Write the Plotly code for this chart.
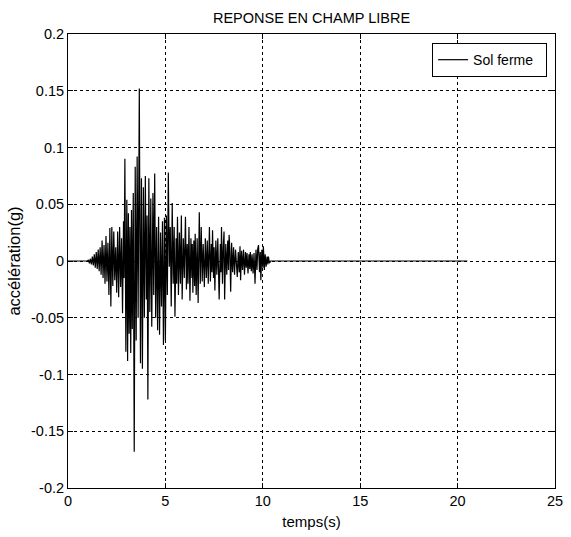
import plotly.graph_objects as go

# Peaks of the free-field acceleration record (s, g)
temps = [
    0.00, 1.00, 1.05, 1.10, 1.15, 1.20, 1.25, 1.30, 1.35, 1.40, 1.45, 1.50, 1.55, 1.60,
    1.65, 1.70, 1.75, 1.80, 1.85, 1.90, 1.95, 2.00, 2.05, 2.10, 2.15, 2.20, 2.25, 2.30,
    2.35, 2.40, 2.45, 2.50, 2.55, 2.60, 2.65, 2.70, 2.75, 2.80, 2.85, 2.88, 2.92, 2.97,
    3.02, 3.06, 3.10, 3.14, 3.18, 3.22, 3.26, 3.30, 3.35, 3.40, 3.45, 3.50, 3.55, 3.60,
    3.66, 3.72, 3.77, 3.82, 3.87, 3.92, 3.97, 4.02, 4.06, 4.10, 4.15, 4.20, 4.25, 4.30,
    4.36, 4.40, 4.45, 4.50, 4.55, 4.60, 4.65, 4.70, 4.75, 4.80, 4.85, 4.90, 4.95, 5.00,
    5.05, 5.10, 5.15, 5.20, 5.25, 5.30, 5.35, 5.40, 5.45, 5.49, 5.55, 5.58, 5.62, 5.67,
    5.72, 5.77, 5.82, 5.86, 5.92, 5.97, 6.03, 6.08, 6.12, 6.16, 6.21, 6.26, 6.31, 6.36,
    6.38, 6.41, 6.46, 6.50, 6.53, 6.58, 6.63, 6.68, 6.74, 6.79, 6.84, 6.89, 6.94, 7.00,
    7.05, 7.10, 7.15, 7.20, 7.26, 7.31, 7.36, 7.39, 7.42, 7.47, 7.50, 7.54, 7.59, 7.64,
    7.69, 7.76, 7.82, 7.85, 7.88, 7.93, 7.97, 8.01, 8.04, 8.10, 8.15, 8.20, 8.24, 8.27,
    8.31, 8.35, 8.40, 8.45, 8.50, 8.55, 8.60, 8.65, 8.69, 8.74, 8.79, 8.83, 8.86, 8.91,
    8.96, 9.01, 9.06, 9.11, 9.15, 9.19, 9.24, 9.29, 9.33, 9.36, 9.41, 9.45, 9.50, 9.55,
    9.60, 9.65, 9.70, 9.74, 9.78, 9.83, 9.87, 9.90, 9.95, 10.00, 10.03, 10.08, 10.12,
    10.17, 10.22, 10.26, 10.29, 10.34, 10.40, 20.50,
]
acceleration = [
    0.000, 0.000, 0.001, -0.002, 0.002, -0.003, 0.004, -0.004, 0.006, -0.006, 0.008, -0.007, 0.010, -0.009,
    0.012, -0.012, 0.018, -0.015, 0.014, -0.020, 0.022, -0.018, 0.016, -0.030, 0.029, -0.040, 0.030, -0.022,
    0.026, -0.017, 0.012, -0.028, 0.026, -0.032, 0.030, -0.023, 0.020, -0.046, 0.035, -0.015, 0.090, -0.080,
    0.054, -0.088, 0.042, -0.064, 0.030, -0.081, 0.045, -0.060, 0.060, -0.168, 0.083, -0.070, 0.092, -0.050,
    0.152, -0.090, 0.073, -0.095, 0.065, -0.050, 0.075, -0.034, 0.040, -0.122, 0.073, -0.045, 0.055, -0.058,
    0.060, -0.030, 0.077, -0.050, 0.030, -0.061, 0.039, -0.065, 0.025, -0.040, 0.035, -0.074, 0.038, -0.070,
    0.040, -0.030, 0.078, -0.005, 0.030, -0.040, 0.051, -0.020, 0.030, -0.049, 0.020, -0.020, 0.039, -0.030,
    0.025, -0.020, 0.040, -0.034, 0.020, -0.015, 0.039, -0.025, 0.015, -0.020, 0.030, -0.035, 0.020, -0.015,
    0.015, -0.028, 0.018, -0.022, 0.024, -0.030, 0.020, -0.037, 0.043, -0.020, 0.030, -0.018, 0.015, -0.023,
    0.020, -0.015, 0.018, -0.020, 0.030, -0.018, 0.015, -0.010, 0.027, -0.015, 0.012, -0.026, 0.018, -0.012,
    0.020, -0.034, 0.015, -0.010, 0.030, -0.020, 0.012, 0.026, -0.034, 0.015, -0.012, 0.018, -0.008, 0.023,
    0.010, -0.027, 0.016, -0.010, 0.012, -0.012, 0.010, -0.008, -0.014, 0.008, -0.010, 0.013, -0.017, 0.009,
    -0.008, 0.010, -0.012, 0.008, -0.006, 0.007, -0.011, 0.006, -0.007, 0.008, -0.009, 0.006, -0.011, 0.007,
    -0.020, 0.010, -0.008, 0.011, 0.014, -0.010, 0.008, -0.017, 0.010, -0.006, 0.013, -0.008, 0.006,
    -0.005, 0.004, -0.003, 0.004, -0.002, 0.000, 0.000,
]

x_ticks = [0, 5, 10, 15, 20, 25]
y_ticks = [-0.2, -0.15, -0.1, -0.05, 0, 0.05, 0.1, 0.15, 0.2]
y_labels = ["-0.2", "-0.15", "-0.1", "-0.05", "0", "0.05", "0.1", "0.15", "0.2"]

FAM = "Liberation Sans, Arial, sans-serif"
font = dict(family=FAM, size=14.5, color="black")

fig = go.Figure()
fig.add_trace(go.Scatter(
    x=temps, y=acceleration, mode="lines", name="Sol ferme\u00a0\u00a0",
    line=dict(color="black", width=1.2),
))

axis_common = dict(
    showline=True, linecolor="black", linewidth=1, mirror="ticks",
    ticks="inside", ticklen=5, tickcolor="black", tickwidth=1,
    showgrid=True, gridcolor="black", gridwidth=1, griddash="3px,3px",
    zeroline=False, tickfont=font, ticklabeloverflow="allow",
)

fig.update_layout(
    width=571, height=537,
    margin=dict(l=68, r=8, t=34, b=49),
    paper_bgcolor="white", plot_bgcolor="white",
    font=font,
    title=dict(text="REPONSE EN CHAMP LIBRE", x=0.5, xref="paper", xanchor="center",
               y=1 - 17.5 / 537, yanchor="middle",
               font=dict(family=FAM, size=14.5, color="black")),
    xaxis=dict(range=[0, 25], tickvals=x_ticks,
               title=dict(text="temps(s)", standoff=8,
                          font=dict(family=FAM, size=15, color="black")),
               **axis_common),
    yaxis=dict(range=[-0.2, 0.2], tickvals=y_ticks, ticktext=y_labels,
               title=dict(text="accélération(g)", standoff=6,
                          font=dict(family=FAM, size=16.5, color="black")),
               **axis_common),
    showlegend=True,
    legend=dict(x=0.9838, y=0.980, xanchor="right", yanchor="top",
                bgcolor="white", bordercolor="black", borderwidth=1,
                font=dict(family=FAM, size=14, color="black")),
)

fig.write_html("out.html")
